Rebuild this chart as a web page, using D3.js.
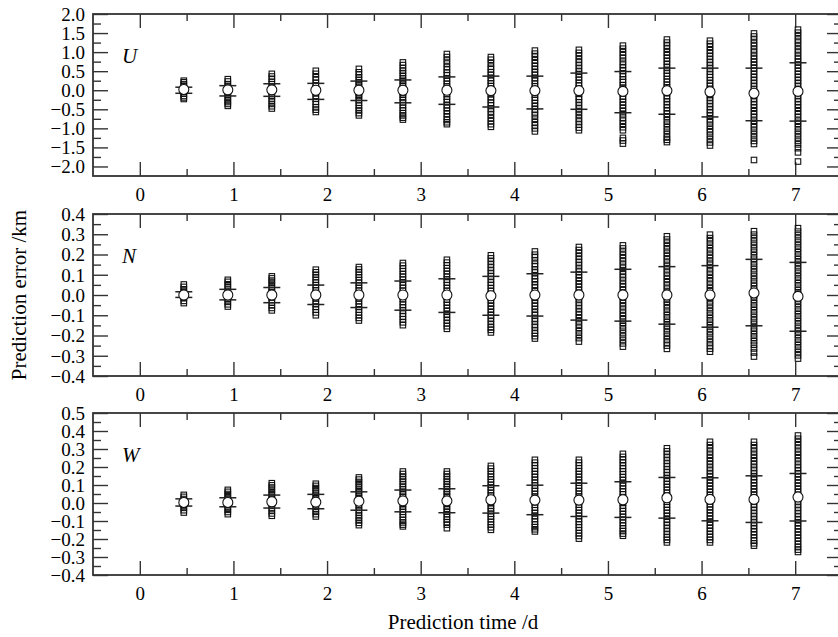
<!DOCTYPE html>
<html>
<head>
<meta charset="utf-8">
<script src="https://cdn.jsdelivr.net/npm/d3@7"></script>
<style>
  body { margin: 0; background: #fff; }
  svg { display: block; }
  text { font-family: "Liberation Serif", "Times New Roman", serif; fill: #000; }
</style>
</head>
<body>
<svg id="chart" width="838" height="637"></svg>
<script>
// prediction times (days) of the 15 groups
const days = [0.47, 0.94, 1.41, 1.88, 2.34, 2.81, 3.28, 3.75, 4.22, 4.69, 5.16, 5.63, 6.09, 6.56, 7.03];
const dayTicks = [0, 1, 2, 3, 4, 5, 6, 7];
const dayMinor = [0.5, 1.5, 2.5, 3.5, 4.5, 5.5, 6.5];

// ---- U component
const uTicks = [2.0, 1.5, 1.0, 0.5, 0.0, -0.5, -1.0, -1.5, -2.0];
const uMinor = [1.75, 1.25, 0.75, 0.25, -0.25, -0.75, -1.25, -1.75];
const uMean = [0.02, 0.01, 0.01, 0, 0, 0, 0, -0.01, -0.01, -0.01, -0.03, -0.01, -0.04, -0.08, -0.03];
const uUpper = [0.08, 0.12, 0.17, 0.18, 0.24, 0.27, 0.35, 0.37, 0.37, 0.45, 0.49, 0.58, 0.58, 0.58, 0.72];
const uLower = [-0.08, -0.15, -0.16, -0.24, -0.27, -0.33, -0.37, -0.44, -0.49, -0.50, -0.59, -0.63, -0.70, -0.80, -0.81];
const uErrors = [
  [0.25, 0.21, 0.16, 0.12, 0.06, 0.01, -0.04, -0.09, -0.15, -0.19, -0.23],
  [0.29, 0.23, 0.16, 0.1, 0.05, -0.02, -0.07, -0.13, -0.2, -0.26, -0.31, -0.36, -0.41],
  [0.43, 0.36, 0.3, 0.22, 0.16, 0.1, 0.03, -0.03, -0.1, -0.16, -0.23, -0.29, -0.36, -0.42, -0.48],
  [0.51, 0.43, 0.34, 0.27, 0.19, 0.12, 0.05, -0.01, -0.08, -0.15, -0.22, -0.3, -0.37, -0.45, -0.51, -0.57],
  [0.56, 0.47, 0.41, 0.34, 0.27, 0.21, 0.15, 0.09, 0.03, -0.03, -0.08, -0.14, -0.2, -0.26, -0.33, -0.4, -0.47, -0.53, -0.6, -0.66],
  [0.73, 0.66, 0.58, 0.51, 0.45, 0.38, 0.31, 0.25, 0.18, 0.12, 0.06, 0.0, -0.06, -0.12, -0.19, -0.25, -0.32, -0.39, -0.46, -0.53, -0.6, -0.66, -0.72, -0.77],
  [0.95, 0.87, 0.78, 0.7, 0.61, 0.54, 0.46, 0.39, 0.31, 0.24, 0.17, 0.1, 0.04, -0.03, -0.1, -0.17, -0.24, -0.31, -0.39, -0.46, -0.54, -0.62, -0.7, -0.78, -0.84, -0.89],
  [0.87, 0.8, 0.71, 0.62, 0.55, 0.47, 0.4, 0.32, 0.25, 0.18, 0.11, 0.04, -0.03, -0.1, -0.18, -0.25, -0.33, -0.4, -0.48, -0.56, -0.64, -0.73, -0.81, -0.89, -0.96],
  [1.04, 0.96, 0.88, 0.79, 0.71, 0.63, 0.55, 0.47, 0.4, 0.32, 0.25, 0.17, 0.1, 0.03, -0.04, -0.11, -0.19, -0.26, -0.34, -0.42, -0.5, -0.58, -0.66, -0.75, -0.84, -0.92, -1.0, -1.08],
  [1.06, 0.98, 0.9, 0.81, 0.73, 0.65, 0.57, 0.49, 0.42, 0.34, 0.27, 0.19, 0.12, 0.05, -0.02, -0.09, -0.17, -0.24, -0.32, -0.4, -0.48, -0.56, -0.65, -0.74, -0.82, -0.9, -0.98, -1.05],
  [1.17, 1.09, 1.0, 0.92, 0.84, 0.75, 0.67, 0.59, 0.51, 0.43, 0.36, 0.28, 0.21, 0.13, 0.06, -0.01, -0.08, -0.16, -0.23, -0.31, -0.39, -0.47, -0.55, -0.63, -0.72, -0.8, -0.88, -0.97, -1.05, -1.25, -1.32, -1.4],
  [1.33, 1.25, 1.17, 1.09, 1.0, 0.92, 0.84, 0.76, 0.68, 0.6, 0.52, 0.44, 0.37, 0.29, 0.22, 0.14, 0.07, 0.0, -0.07, -0.15, -0.22, -0.3, -0.38, -0.46, -0.54, -0.62, -0.7, -0.79, -0.88, -0.97, -1.06, -1.15, -1.24, -1.3, -1.36],
  [1.3, 1.22, 1.14, 1.05, 0.97, 0.89, 0.81, 0.73, 0.65, 0.57, 0.49, 0.41, 0.34, 0.26, 0.18, 0.11, 0.03, -0.04, -0.12, -0.19, -0.27, -0.35, -0.43, -0.51, -0.59, -0.67, -0.76, -0.84, -0.93, -1.02, -1.1, -1.19, -1.28, -1.37, -1.45],
  [1.49, 1.41, 1.33, 1.24, 1.16, 1.07, 0.99, 0.9, 0.82, 0.74, 0.66, 0.58, 0.5, 0.42, 0.34, 0.26, 0.18, 0.1, 0.02, -0.06, -0.14, -0.22, -0.3, -0.38, -0.46, -0.55, -0.63, -0.71, -0.8, -0.89, -0.97, -1.06, -1.15, -1.24, -1.33, -1.41, -1.83],
  [1.59, 1.51, 1.42, 1.33, 1.25, 1.16, 1.07, 0.99, 0.9, 0.82, 0.74, 0.66, 0.58, 0.5, 0.42, 0.34, 0.26, 0.18, 0.1, 0.02, -0.06, -0.14, -0.22, -0.3, -0.38, -0.46, -0.55, -0.63, -0.71, -0.8, -0.88, -0.97, -1.06, -1.15, -1.24, -1.33, -1.42, -1.52, -1.63, -1.87]
];

// ---- N component
const nTicks = [0.4, 0.3, 0.2, 0.1, 0.0, -0.1, -0.2, -0.3, -0.4];
const nMinor = [0.35, 0.25, 0.15, 0.05, -0.05, -0.15, -0.25, -0.35];
const nMean = [0, 0, 0, 0, 0, 0, 0, -0.004, 0, 0, 0, 0, 0, 0.01, -0.007];
const nUpper = [0.016, 0.028, 0.037, 0.049, 0.06, 0.069, 0.08, 0.092, 0.105, 0.113, 0.127, 0.14, 0.145, 0.176, 0.161];
const nLower = [-0.012, -0.024, -0.038, -0.047, -0.062, -0.075, -0.086, -0.10, -0.104, -0.124, -0.129, -0.144, -0.159, -0.152, -0.179];
const nErrors = [
  [0.052, 0.04, 0.028, 0.017, 0.006, -0.005, -0.016, -0.029, -0.04],
  [0.075, 0.065, 0.053, 0.041, 0.03, 0.017, 0.005, -0.008, -0.021, -0.034, -0.046, -0.057],
  [0.092, 0.082, 0.071, 0.06, 0.049, 0.037, 0.025, 0.013, 0.001, -0.012, -0.025, -0.038, -0.051, -0.064, -0.076],
  [0.125, 0.112, 0.1, 0.088, 0.075, 0.062, 0.049, 0.036, 0.023, 0.01, -0.003, -0.016, -0.03, -0.044, -0.058, -0.072, -0.086, -0.1],
  [0.138, 0.126, 0.113, 0.1, 0.087, 0.074, 0.061, 0.048, 0.035, 0.022, 0.009, -0.004, -0.017, -0.03, -0.044, -0.058, -0.072, -0.086, -0.1, -0.113, -0.126],
  [0.158, 0.145, 0.131, 0.117, 0.103, 0.09, 0.076, 0.062, 0.048, 0.035, 0.021, 0.008, -0.006, -0.02, -0.034, -0.048, -0.062, -0.077, -0.092, -0.106, -0.12, -0.135, -0.149],
  [0.174, 0.16, 0.146, 0.132, 0.118, 0.104, 0.09, 0.076, 0.062, 0.048, 0.034, 0.02, 0.006, -0.008, -0.022, -0.036, -0.05, -0.065, -0.08, -0.095, -0.11, -0.125, -0.14, -0.154, -0.167],
  [0.196, 0.181, 0.166, 0.151, 0.136, 0.121, 0.106, 0.092, 0.077, 0.062, 0.048, 0.033, 0.019, 0.004, -0.01, -0.025, -0.04, -0.055, -0.07, -0.085, -0.1, -0.115, -0.13, -0.145, -0.16, -0.172, -0.185],
  [0.215, 0.199, 0.186, 0.17, 0.154, 0.141, 0.125, 0.111, 0.094, 0.08, 0.066, 0.05, 0.036, 0.019, 0.005, -0.011, -0.025, -0.041, -0.055, -0.07, -0.086, -0.1, -0.116, -0.13, -0.146, -0.16, -0.176, -0.19, -0.203, -0.215],
  [0.237, 0.222, 0.207, 0.191, 0.176, 0.161, 0.146, 0.13, 0.115, 0.1, 0.085, 0.069, 0.054, 0.039, 0.024, 0.009, -0.006, -0.021, -0.037, -0.052, -0.067, -0.083, -0.098, -0.114, -0.13, -0.146, -0.162, -0.179, -0.196, -0.213, -0.23],
  [0.245, 0.23, 0.214, 0.198, 0.182, 0.166, 0.15, 0.134, 0.118, 0.102, 0.087, 0.071, 0.055, 0.04, 0.024, 0.008, -0.008, -0.024, -0.04, -0.056, -0.072, -0.088, -0.104, -0.12, -0.137, -0.154, -0.171, -0.188, -0.205, -0.222, -0.239, -0.255],
  [0.29, 0.274, 0.258, 0.241, 0.225, 0.208, 0.192, 0.176, 0.16, 0.143, 0.127, 0.111, 0.095, 0.079, 0.063, 0.047, 0.031, 0.015, -0.001, -0.017, -0.033, -0.05, -0.066, -0.083, -0.1, -0.117, -0.134, -0.151, -0.168, -0.185, -0.202, -0.219, -0.235, -0.25, -0.266],
  [0.298, 0.281, 0.265, 0.248, 0.231, 0.215, 0.198, 0.182, 0.165, 0.149, 0.132, 0.116, 0.1, 0.083, 0.067, 0.051, 0.034, 0.018, 0.002, -0.014, -0.031, -0.047, -0.064, -0.081, -0.098, -0.115, -0.132, -0.149, -0.166, -0.183, -0.2, -0.217, -0.234, -0.25, -0.265, -0.28],
  [0.315, 0.298, 0.281, 0.264, 0.247, 0.23, 0.213, 0.196, 0.179, 0.162, 0.145, 0.128, 0.111, 0.094, 0.077, 0.06, 0.044, 0.027, 0.01, -0.007, -0.024, -0.041, -0.058, -0.075, -0.092, -0.109, -0.126, -0.143, -0.16, -0.177, -0.194, -0.211, -0.228, -0.246, -0.264, -0.284, -0.304],
  [0.33, 0.313, 0.296, 0.279, 0.262, 0.245, 0.228, 0.211, 0.194, 0.177, 0.16, 0.143, 0.126, 0.109, 0.092, 0.075, 0.058, 0.041, 0.024, 0.007, -0.01, -0.027, -0.044, -0.061, -0.078, -0.095, -0.112, -0.129, -0.146, -0.163, -0.18, -0.197, -0.214, -0.231, -0.248, -0.265, -0.282, -0.298, -0.314]
];

// ---- W component
const wTicks = [0.5, 0.4, 0.3, 0.2, 0.1, 0.0, -0.1, -0.2, -0.3, -0.4];
const wMinor = [0.45, 0.35, 0.25, 0.15, 0.05, -0.05, -0.15, -0.25, -0.35];
const wMean = [0.003, 0.003, 0.007, 0.005, 0.01, 0.012, 0.012, 0.018, 0.016, 0.016, 0.018, 0.029, 0.02, 0.02, 0.033];
const wUpper = [0.023, 0.029, 0.044, 0.048, 0.062, 0.072, 0.079, 0.096, 0.099, 0.11, 0.118, 0.142, 0.14, 0.151, 0.164];
const wLower = [-0.017, -0.021, -0.028, -0.032, -0.04, -0.049, -0.054, -0.056, -0.065, -0.075, -0.08, -0.084, -0.099, -0.108, -0.10];
const wErrors = [
  [0.045, 0.034, 0.022, 0.01, -0.002, -0.014, -0.027, -0.04, -0.053],
  [0.073, 0.062, 0.05, 0.038, 0.025, 0.013, 0.001, -0.012, -0.025, -0.038, -0.05, -0.062],
  [0.11, 0.098, 0.086, 0.073, 0.06, 0.048, 0.035, 0.022, 0.01, -0.003, -0.016, -0.03, -0.044, -0.058, -0.071],
  [0.107, 0.095, 0.083, 0.07, 0.057, 0.045, 0.032, 0.019, 0.006, -0.007, -0.021, -0.035, -0.049, -0.062, -0.075],
  [0.142, 0.13, 0.117, 0.104, 0.091, 0.078, 0.065, 0.052, 0.039, 0.026, 0.013, 0.0, -0.013, -0.027, -0.041, -0.055, -0.069, -0.083, -0.097, -0.11, -0.123],
  [0.175, 0.161, 0.147, 0.133, 0.119, 0.105, 0.091, 0.077, 0.063, 0.049, 0.035, 0.021, 0.007, -0.007, -0.021, -0.035, -0.049, -0.064, -0.079, -0.094, -0.108, -0.12, -0.13],
  [0.175, 0.161, 0.147, 0.133, 0.119, 0.105, 0.091, 0.077, 0.063, 0.05, 0.036, 0.022, 0.008, -0.006, -0.02, -0.034, -0.048, -0.062, -0.077, -0.092, -0.106, -0.12, -0.14],
  [0.206, 0.191, 0.176, 0.161, 0.146, 0.131, 0.116, 0.101, 0.086, 0.071, 0.057, 0.042, 0.028, 0.013, -0.001, -0.016, -0.03, -0.045, -0.06, -0.075, -0.09, -0.105, -0.12, -0.135, -0.149],
  [0.24, 0.224, 0.208, 0.192, 0.176, 0.16, 0.144, 0.128, 0.112, 0.097, 0.081, 0.066, 0.05, 0.035, 0.02, 0.005, -0.01, -0.025, -0.04, -0.056, -0.072, -0.088, -0.104, -0.12, -0.134, -0.146, -0.158],
  [0.24, 0.224, 0.208, 0.192, 0.176, 0.16, 0.144, 0.128, 0.113, 0.097, 0.082, 0.066, 0.051, 0.036, 0.021, 0.006, -0.009, -0.024, -0.04, -0.056, -0.072, -0.088, -0.104, -0.12, -0.136, -0.152, -0.168, -0.183, -0.198],
  [0.273, 0.256, 0.24, 0.224, 0.207, 0.191, 0.175, 0.159, 0.143, 0.127, 0.111, 0.095, 0.079, 0.063, 0.048, 0.032, 0.017, 0.001, -0.014, -0.03, -0.046, -0.062, -0.078, -0.094, -0.11, -0.126, -0.142, -0.156, -0.17, -0.182],
  [0.304, 0.287, 0.27, 0.253, 0.236, 0.219, 0.203, 0.186, 0.17, 0.153, 0.137, 0.12, 0.104, 0.088, 0.072, 0.056, 0.04, 0.024, 0.008, -0.008, -0.024, -0.04, -0.056, -0.073, -0.09, -0.107, -0.124, -0.141, -0.158, -0.175, -0.191, -0.205, -0.219],
  [0.34, 0.322, 0.304, 0.286, 0.268, 0.25, 0.232, 0.215, 0.197, 0.18, 0.162, 0.145, 0.128, 0.111, 0.094, 0.077, 0.06, 0.043, 0.026, 0.01, -0.006, -0.022, -0.038, -0.055, -0.072, -0.089, -0.106, -0.123, -0.14, -0.157, -0.174, -0.19, -0.205, -0.219],
  [0.34, 0.322, 0.304, 0.286, 0.268, 0.25, 0.232, 0.215, 0.197, 0.18, 0.163, 0.146, 0.129, 0.112, 0.095, 0.078, 0.061, 0.044, 0.027, 0.01, -0.007, -0.024, -0.041, -0.058, -0.075, -0.092, -0.109, -0.126, -0.143, -0.16, -0.177, -0.194, -0.21, -0.224, -0.237],
  [0.375, 0.357, 0.339, 0.321, 0.303, 0.285, 0.267, 0.249, 0.231, 0.213, 0.196, 0.179, 0.162, 0.145, 0.128, 0.111, 0.094, 0.077, 0.06, 0.043, 0.026, 0.009, -0.008, -0.025, -0.042, -0.059, -0.076, -0.093, -0.11, -0.127, -0.144, -0.161, -0.178, -0.195, -0.212, -0.229, -0.245, -0.259, -0.272]
];

const panels = [
  { name: "U", domain: [-2.25, 2.0], top: 14,  bottom: 176, ticks: uTicks, minor: uMinor, mean: uMean, upper: uUpper, lower: uLower, errors: uErrors },
  { name: "N", domain: [-0.4, 0.4],  top: 214, bottom: 376, ticks: nTicks, minor: nMinor, mean: nMean, upper: nUpper, lower: nLower, errors: nErrors },
  { name: "W", domain: [-0.4, 0.5],  top: 413, bottom: 575, ticks: wTicks, minor: wMinor, mean: wMean, upper: wUpper, lower: wLower, errors: wErrors }
];

const left = 93, right = 842;
const svg = d3.select("#chart");
const x = d3.scaleLinear().domain([-0.5, 7.5]).range([left, right]);
const fmt = d3.format(".1f");
const axisColor = "#333";

function styleAxis(g) {
  g.select(".domain").remove();
  g.selectAll(".tick line").attr("stroke", axisColor).attr("stroke-width", 1.4);
  g.selectAll(".tick text").style("font-size", "19px").attr("fill", "#000");
}

panels.forEach(p => {
  const y = d3.scaleLinear().domain(p.domain).range([p.bottom, p.top]);
  const g = svg.append("g");

  // left axis (inward ticks)
  g.append("g").attr("transform", `translate(${left},0)`)
    .call(d3.axisLeft(y).tickValues(p.minor).tickSize(-8).tickFormat(""))
    .call(styleAxis);
  g.append("g").attr("transform", `translate(${left},0)`)
    .call(d3.axisLeft(y).tickValues(p.ticks).tickSize(-15).tickPadding(8).tickFormat(fmt))
    .call(styleAxis)
    .selectAll(".tick text").attr("dy", "0.34em");

  // right axis
  g.append("g").attr("transform", `translate(${right},0)`)
    .call(d3.axisRight(y).tickValues(p.minor).tickSize(-8).tickFormat(""))
    .call(styleAxis);
  g.append("g").attr("transform", `translate(${right},0)`)
    .call(d3.axisRight(y).tickValues(p.ticks).tickSize(-15).tickFormat(""))
    .call(styleAxis);

  // top axis
  g.append("g").attr("transform", `translate(0,${p.top})`)
    .call(d3.axisTop(x).tickValues(dayMinor).tickSize(-7).tickFormat(""))
    .call(styleAxis);
  g.append("g").attr("transform", `translate(0,${p.top})`)
    .call(d3.axisTop(x).tickValues(dayTicks).tickSize(-14).tickFormat(""))
    .call(styleAxis);

  // bottom axis
  g.append("g").attr("transform", `translate(0,${p.bottom})`)
    .call(d3.axisBottom(x).tickValues(dayMinor).tickSize(-7).tickFormat(""))
    .call(styleAxis);
  g.append("g").attr("transform", `translate(0,${p.bottom})`)
    .call(d3.axisBottom(x).tickValues(dayTicks).tickSize(-14).tickPadding(12).tickFormat(d3.format("d")))
    .call(styleAxis);

  // frame
  g.append("rect")
    .attr("x", left).attr("y", p.top)
    .attr("width", right - left).attr("height", p.bottom - p.top)
    .attr("fill", "none").attr("stroke", axisColor).attr("stroke-width", 1.8);

  // component label
  g.append("text")
    .attr("x", 122).attr("y", p.top + 49)
    .style("font-size", "21px").style("font-style", "italic")
    .text(p.name);

  // individual errors (squares)
  const groups = g.selectAll(".grp")
    .data(p.errors)
    .join("g")
    .attr("class", "grp");
  groups.selectAll("rect")
    .data((vals, i) => vals.map(v => ({ t: days[i], v })))
    .join("rect")
    .attr("x", d => x(d.t) - 2.75)
    .attr("y", d => y(d.v) - 2.75)
    .attr("width", 5.5).attr("height", 5.5)
    .attr("fill", "none")
    .attr("stroke", "#111")
    .attr("stroke-width", 1.1);

  // std bars
  const bars = days.flatMap((t, i) => [{ t, v: p.upper[i] }, { t, v: p.lower[i] }]);
  g.selectAll(".bar")
    .data(bars)
    .join("line")
    .attr("class", "bar")
    .attr("x1", d => x(d.t) - 8.5).attr("x2", d => x(d.t) + 8.5)
    .attr("y1", d => y(d.v)).attr("y2", d => y(d.v))
    .attr("stroke", "#222").attr("stroke-width", 1.5);

  // means
  g.selectAll(".mean")
    .data(days.map((t, i) => ({ t, v: p.mean[i] })))
    .join("circle")
    .attr("class", "mean")
    .attr("cx", d => x(d.t)).attr("cy", d => y(d.v))
    .attr("r", 5)
    .attr("fill", "#fff").attr("stroke", "#111").attr("stroke-width", 1.1);
});

// axis titles
svg.append("text")
  .attr("x", 463).attr("y", 629)
  .attr("text-anchor", "middle")
  .style("font-size", "21px")
  .text("Prediction time /d");

svg.append("text")
  .attr("transform", "translate(26,295) rotate(-90)")
  .attr("text-anchor", "middle")
  .style("font-size", "21px")
  .text("Prediction error /km");
</script>
</body>
</html>
